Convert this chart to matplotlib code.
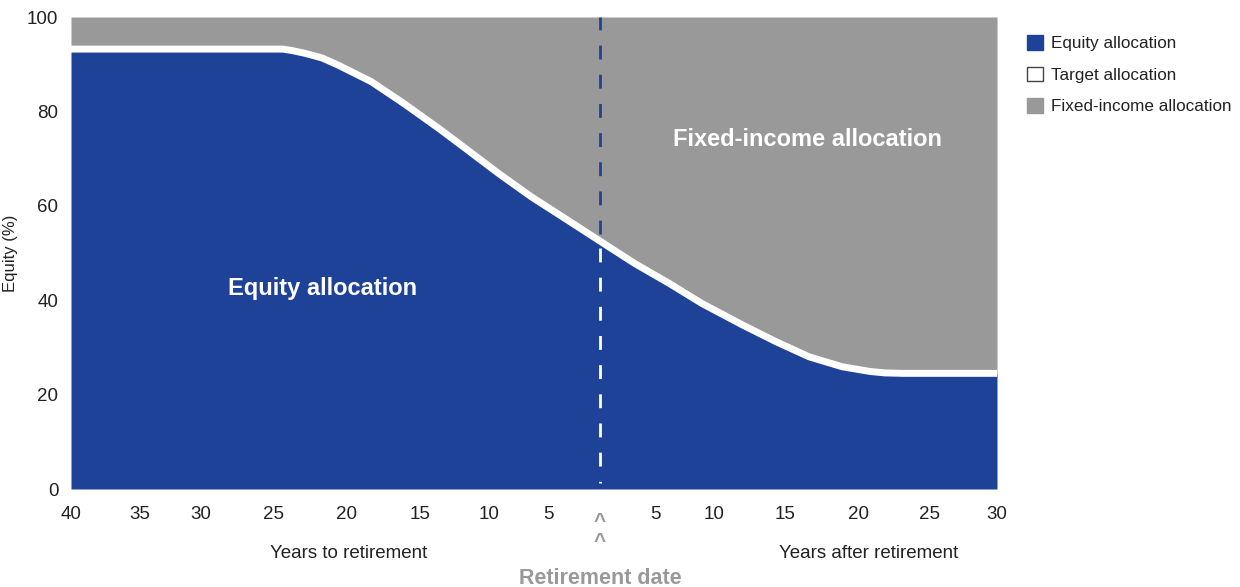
import matplotlib
matplotlib.use("Agg")
import matplotlib.pyplot as plt
import matplotlib.transforms as mtransforms
from matplotlib.patches import Patch

plt.rcParams['font.family'] = ['Liberation Sans', 'DejaVu Sans']

# glide path (negative = years before retirement)
years = [-40, -24, -23.3, -22.3, -21.0, -19.8, -17.3, -14.8, -12.2, -10.2, -7.7, -5.2, -2.7, 0,
         2.6, 5.2, 7.7, 10.8, 13.3, 15.8, 18.3, 20.4, 21.5, 22.9, 30]
equity = [93.2, 93.2, 92.9, 92.3, 91.3, 89.8, 86.3, 81.6, 76.4, 72.2, 66.9, 61.9, 57.4, 52.5,
          47.8, 43.6, 39.3, 34.7, 31.2, 28.0, 25.9, 24.9, 24.6, 24.5, 24.5]

# tick labels sit where the picture shows them
xtick_pos = [-40, -34.8, -30.2, -24.7, -19.2, -13.6, -8.4, -3.9,
             4.2, 8.6, 14.0, 19.5, 24.9, 30]
xtick_labels = ['40', '35', '30', '25', '20', '15', '10', '5',
                '5', '10', '15', '20', '25', '30']
yticks = [0, 20, 40, 60, 80, 100]

legend_labels = ['Equity allocation', 'Target allocation', 'Fixed-income allocation']

BLUE = '#1f4299'
GREY = '#999999'
TEXT = '#222222'

fig = plt.figure(figsize=(12.4, 5.87), dpi=100)
ax = fig.add_axes([71 / 1240, 1 - 489 / 587, 926 / 1240, 472 / 587])

ax.fill_between(years, 0, equity, color=BLUE, lw=0)
ax.fill_between(years, equity, 100, color=GREY, lw=0)
ax.plot(years, equity, color='white', lw=5, solid_capstyle='butt',
        solid_joinstyle='round', zorder=3)

# retirement date marker
eq0 = equity[years.index(0)]
ax.plot([0, 0], [eq0 + 1.5, 100], color=BLUE, lw=2, ls=(0, (5, 5.5)), zorder=2)
ax.plot([0, 0], [eq0 - 1.5, 1.2], color='white', lw=2, ls=(0, (5, 5.5)), zorder=2)

ax.set_xlim(-40, 30)
ax.set_ylim(0, 100)
ax.set_xticks(xtick_pos)
ax.set_xticklabels(xtick_labels)
ax.set_yticks(yticks)
ax.tick_params(length=0, labelsize=13.5, colors=TEXT)
ax.tick_params(axis='x', pad=12)
ax.tick_params(axis='y', pad=9)
for s in ax.spines.values():
    s.set_visible(False)

ax.set_ylabel('Equity (%)', fontsize=12, color=TEXT)
ax.yaxis.set_label_coords(-53 / 926, 0.5)

ax.text(-21.0, 42.4, 'Equity allocation', color='white', fontsize=17,
        fontweight='bold', ha='center', va='center')
ax.text(15.7, 74.0, 'Fixed-income allocation', color='white', fontsize=17,
        fontweight='bold', ha='center', va='center')

trans = mtransforms.blended_transform_factory(ax.transData, fig.transFigure)
ax.text(0, 1 - 521 / 587, '^', transform=trans, color=GREY, fontsize=15,
        fontweight='bold', ha='center', va='center')
ax.text(0, 1 - 542 / 587, '^', transform=trans, color=GREY, fontsize=15,
        fontweight='bold', ha='center', va='center')
ax.text(-19.0, 1 - 553 / 587, 'Years to retirement', transform=trans, color=TEXT,
        fontsize=13.5, ha='center', va='center')
ax.text(20.3, 1 - 553 / 587, 'Years after retirement', transform=trans, color=TEXT,
        fontsize=13.5, ha='center', va='center')
ax.text(0, 1 - 578 / 587, 'Retirement date', transform=trans, color=GREY,
        fontsize=15.5, fontweight='bold', ha='center', va='center')

handles = [Patch(facecolor=BLUE, edgecolor=BLUE),
           Patch(facecolor='white', edgecolor='#444444', lw=1),
           Patch(facecolor=GREY, edgecolor=GREY)]
fig.legend(handles, legend_labels, loc='upper left',
           bbox_to_anchor=(1027 / 1240, 1 - 35 / 587), frameon=False,
           fontsize=12.3, labelcolor=TEXT, handlelength=0.95, handleheight=0.95,
           handletextpad=0.45, labelspacing=0.9, borderpad=0, borderaxespad=0)

fig.savefig('out.png', dpi=100)
